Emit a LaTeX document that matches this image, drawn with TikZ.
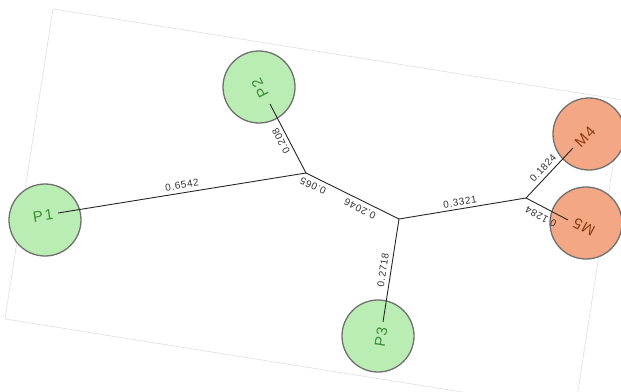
\documentclass[tikz,border=0pt]{standalone}
\usepackage{fontspec}
\setmainfont{Liberation Sans}
\newfontfamily\leaffont[LetterSpace=12]{Liberation Sans}
\newfontfamily\lenfont[LetterSpace=6]{Liberation Sans}
\definecolor{pfill}{HTML}{B9EDB3}
\definecolor{ptext}{HTML}{3B8C3B}
\definecolor{mfill}{HTML}{F4A784}
\definecolor{mtext}{HTML}{8A3A14}
\definecolor{rim}{HTML}{707070}
\tikzset{
	leaf/.style={circle, draw=rim, line width=1.3pt, minimum size=72pt, inner sep=0pt},
	pleaf/.style={leaf, fill=pfill},
	mleaf/.style={leaf, fill=mfill},
	ptag/.style={font=\leaffont\fontsize{15}{15}\selectfont, text=ptext, inner sep=0pt},
	mtag/.style={ptag, text=mtext},
	branch/.style={line width=0.9pt, color=black!85},
	len/.style={font=\lenfont\fontsize{10}{10}\selectfont, text=black!80, inner sep=0pt}
}

\begin{document}
\begin{tikzpicture}[x=1pt, y=-1pt]
			%%%%% START %%%%%
			\useasboundingbox (0, 0) rectangle (621, 391);
			
			\draw[line width=0.6pt, color=black!13] (53, 9) -- (623, 100) -- (575, 410) -- (5, 319) -- cycle;
			
			\node[pleaf] (P1) at (45, 220) {};
			\node[pleaf] (P2) at (259, 87) {};
			\node[pleaf] (P3) at (378, 336) {};
			\node[mleaf] (M4) at (589, 134) {};
			\node[mleaf] (M5) at (586, 223) {};
			
			\coordinate (N1) at (306, 173);
			\coordinate (N2) at (399, 219);
			\coordinate (N3) at (526, 198);
			
			\coordinate (P1e) at (58, 213);
			\coordinate (P2e) at (270, 104);
			\coordinate (P3e) at (383, 322);
			\coordinate (M4e) at (573, 148);
			\coordinate (M5e) at (568, 220);
			
			\draw[branch] (P1e) -- (N1) -- (N2) -- (N3) -- (M4e);
			\draw[branch] (N1) -- (P2e);
			\draw[branch] (N2) -- (P3e);
			\draw[branch] (N3) -- (M5e);
			
			\node[ptag, rotate=9] (P1t) at (43, 216) {P1};
			\node[ptag, rotate=117] (P2t) at (260, 88) {P2};
			\node[ptag, rotate=81] (P3t) at (381, 337) {P3};
			\node[mtag, rotate=47] (M4t) at (585, 137) {M4};
			\node[mtag, rotate=152] (M5t) at (584, 227) {M5};
			
			\node[len, rotate=9] (l1) at (182, 185) {0.6542};
			\node[len, rotate=117] (l2) at (281, 141) {0.208};
			\node[len, rotate=154] (l3) at (313, 186) {0.065};
			\node[len, rotate=154] (l4) at (360, 209) {0.2046};
			\node[len, rotate=9] (l5) at (460, 202) {0.3321};
			\node[len, rotate=81] (l6) at (383, 270) {0.2718};
			\node[len, rotate=47] (l7) at (543, 168) {0.1824};
			\node[len, rotate=152] (l8) at (541, 217) {0.1284};
			
			%%%%% END %%%%%
		\end{tikzpicture}
\end{document}
